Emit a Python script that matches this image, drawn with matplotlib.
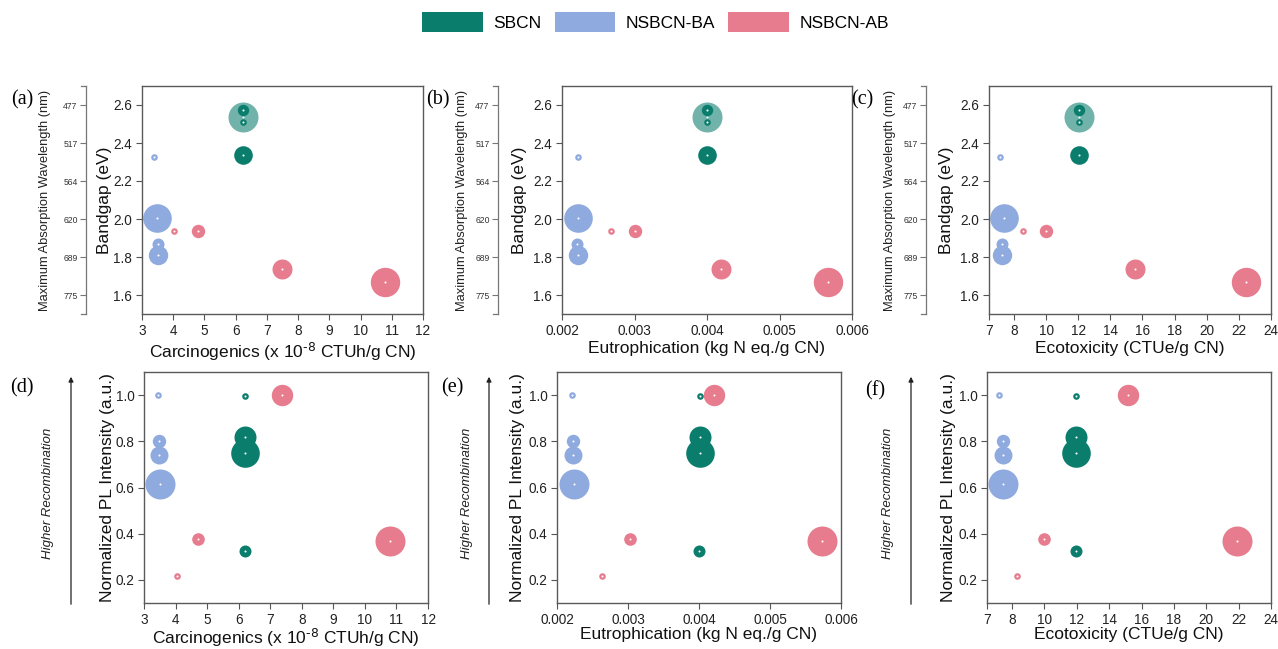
import matplotlib
matplotlib.use('Agg')
import matplotlib.pyplot as plt
from matplotlib.patches import Patch, FancyArrowPatch
from matplotlib.lines import Line2D

plt.rcParams['font.family'] = ['Liberation Sans', 'DejaVu Sans']
plt.rcParams['mathtext.default'] = 'regular'

W, H = 1278, 649

materials = ['SBCN', 'NSBCN-BA', 'NSBCN-AB']
colors = {'SBCN': '#0b7d6d', 'NSBCN-BA': '#8faade', 'NSBCN-AB': '#e67c8e'}

# ---- top row: bandgap vs LCA impacts ----
gap_sbcn = [2.539, 2.574, 2.513, 2.338]
gap_ba = [2.324, 2.006, 1.866, 1.810]
gap_ab = [1.939, 1.936, 1.736, 1.666]

gap_size_sbcn = [15.0, 5.7, 3.3, 9.3]
gap_size_ba = [3.3, 14.3, 6.0, 9.7]
gap_size_ab = [3.3, 6.7, 10.0, 14.7]
gap_alpha_sbcn = [0.58, 1, 1, 1]

carc_gap_sbcn = [6.23, 6.23, 6.23, 6.23]
carc_gap_ba = [3.39, 3.49, 3.50, 3.52]
carc_gap_ab = [4.01, 4.78, 7.49, 10.77]

eutro_gap_sbcn = [0.0040, 0.0040, 0.0040, 0.0040]
eutro_gap_ba = [0.00222, 0.00222, 0.00220, 0.00222]
eutro_gap_ab = [0.002678, 0.003012, 0.004188, 0.005671]

eco_gap_sbcn = [12.03, 12.03, 12.03, 12.03]
eco_gap_ba = [7.12, 7.41, 7.23, 7.23]
eco_gap_ab = [8.55, 10.0, 15.55, 22.44]

# ---- bottom row: normalized PL vs LCA impacts ----
pl_sbcn = [0.997, 0.818, 0.751, 0.327]
pl_ba = [1.0, 0.800, 0.740, 0.617]
pl_ab = [1.0, 0.376, 0.219, 0.368]

pl_size_sbcn = [3.3, 11.0, 14.3, 6.0]
pl_size_ba = [3.3, 6.7, 9.0, 15.0]
pl_size_ab = [10.7, 6.3, 3.3, 15.0]

carc_pl_sbcn = [6.20, 6.20, 6.20, 6.20]
carc_pl_ba = [3.44, 3.49, 3.49, 3.51]
carc_pl_ab = [7.37, 4.71, 4.05, 10.80]

eutro_pl_sbcn = [0.00401, 0.00401, 0.00401, 0.004005]
eutro_pl_ba = [0.002207, 0.00223, 0.00223, 0.00224]
eutro_pl_ab = [0.004207, 0.003023, 0.002634, 0.005737]

eco_pl_sbcn = [11.98, 11.98, 11.98, 11.98]
eco_pl_ba = [7.20, 7.41, 7.41, 7.45]
eco_pl_ab = [15.19, 10.0, 8.31, 21.90]

# wavelength axis (nm), placed at 1240/lambda eV
wavelengths = [477, 517, 564, 620, 689, 775]

carc_label = 'Carcinogenics (x 10$^{\\text{-8}}$ CTUh/g CN)'
eutro_label = 'Eutrophication (kg N eq./g CN)'
eco_label = 'Ecotoxicity (CTUe/g CN)'

carc_ticks = [3, 4, 5, 6, 7, 8, 9, 10, 11, 12]
eutro_ticks = [0.002, 0.003, 0.004, 0.005, 0.006]
eco_ticks = [6.45, 8, 10, 12, 14, 16, 18, 20, 22, 24]
eco_ticklabels = ['7', '8', '10', '12', '14', '16', '18', '20', '22', '24']

fig = plt.figure(figsize=(W / 100, H / 100), dpi=100)


def px_axes(l, t, r, b):
    return fig.add_axes([l / W, 1 - b / H, (r - l) / W, (b - t) / H])


def bubbles(ax, groups):
    pts = []
    for name, xs, ys, rs, alphas in groups:
        for x, y, r, a in zip(xs, ys, rs, alphas):
            pts.append((x, y, r, a, colors[name]))
    pts.sort(key=lambda p: -p[2])
    for i, (x, y, r, a, c) in enumerate(pts):
        ax.scatter(x, y, s=(2 * r * 0.72) ** 2, color=c, alpha=a, lw=0, zorder=2 + i * 0.01)
        ax.scatter(x, y, s=2.2, color='white', lw=0, zorder=2.005 + i * 0.01)


def style(ax, box, xlim, xticks, xticklabels, ylim, yticks, xlabel, ylabel, ylab_px, xlab_px):
    l, t, r, b = box
    ax.set_xlim(xlim)
    ax.set_ylim(ylim)
    ax.set_xticks(xticks)
    if xticklabels is not None:
        ax.set_xticklabels(xticklabels)
    else:
        ax.set_xticklabels([('%g' % v) for v in xticks])
    ax.set_yticks(yticks)
    ax.set_yticklabels(['%.1f' % v for v in yticks])
    ax.tick_params(direction='out', length=4, width=0.8, colors='#555555',
                   labelcolor='#222222', labelsize=9.8, pad=3)
    for s in ax.spines.values():
        s.set_color('#5a5a5a')
        s.set_linewidth(1.0)
    ax.set_xlabel(xlabel, fontsize=12.5, color='#111111')
    ax.set_ylabel(ylabel, fontsize=12.5, color='#111111')
    ax.yaxis.set_label_coords((ylab_px + 9 - l) / (r - l), 0.5)
    ax.xaxis.set_label_coords(0.5, -(xlab_px - 9 - b) / (b - t))


def wavelength_axis(ax_box, x_px, label_px):
    l, t, r, b = ax_box
    wax = fig.add_axes([x_px / W, 1 - b / H, 0.0005, (b - t) / H])
    wax.set_ylim(1.5, 2.7)
    wax.patch.set_visible(False)
    for s in ['top', 'right', 'bottom']:
        wax.spines[s].set_visible(False)
    wax.spines['left'].set_color('#777777')
    wax.spines['left'].set_linewidth(0.9)
    wax.set_xticks([])
    wax.set_yticks([1240.0 / w for w in wavelengths])
    wax.set_yticklabels([str(w) for w in wavelengths])
    wax.tick_params(axis='y', direction='out', length=4, width=0.8, colors='#777777',
                    labelcolor='#333333', labelsize=6.2, pad=2)
    for yy in (t, b):
        fig.add_artist(Line2D([(x_px - 5) / W, x_px / W], [1 - yy / H, 1 - yy / H],
                              color='#777777', lw=0.9))
    fig.text(label_px / W, 1 - (t + b) / 2 / H, 'Maximum Absorption Wavelength (nm)',
             rotation=90, ha='center', va='center', fontsize=9.3, color='#222222')


top_boxes = [(142, 86, 423, 314), (562, 86, 852, 314), (989, 86, 1271, 314)]
bot_boxes = [(144, 372, 428, 603), (557, 372, 841, 603), (987, 372, 1271, 603)]

gap_ticks = [1.6, 1.8, 2.0, 2.2, 2.4, 2.6]
pl_ticks = [0.2, 0.4, 0.6, 0.8, 1.0]

top_x = [
    (carc_gap_sbcn, carc_gap_ba, carc_gap_ab, (3, 12), carc_ticks, None, carc_label),
    (eutro_gap_sbcn, eutro_gap_ba, eutro_gap_ab, (0.002, 0.006), eutro_ticks, None, eutro_label),
    (eco_gap_sbcn, eco_gap_ba, eco_gap_ab, (6.45, 24), eco_ticks, eco_ticklabels, eco_label),
]
bot_x = [
    (carc_pl_sbcn, carc_pl_ba, carc_pl_ab, (3, 12), carc_ticks, None, carc_label),
    (eutro_pl_sbcn, eutro_pl_ba, eutro_pl_ab, (0.002, 0.006), eutro_ticks, None, eutro_label),
    (eco_pl_sbcn, eco_pl_ba, eco_pl_ab, (6.45, 24), eco_ticks, eco_ticklabels, eco_label),
]

top_ylab = [103, 518, 945]
top_wl_spine = [86, 498, 926]
top_wl_label = [45, 462, 890]
bot_ylab = [106, 516, 947]
arrow_x = [71, 489, 911]
arrow_text_x = [48, 467, 888]
top_letters = [('(a)', 22, 100), ('(b)', 438, 100), ('(c)', 862, 100)]
bot_letters = [('(d)', 22, 388), ('(e)', 452, 388), ('(f)', 875, 391)]

for i in range(3):
    box = top_boxes[i]
    xs_s, xs_b, xs_a, xlim, xt, xtl, xlabel = top_x[i]
    ax = px_axes(*box)
    bubbles(ax, [('SBCN', xs_s, gap_sbcn, gap_size_sbcn, gap_alpha_sbcn),
                 ('NSBCN-BA', xs_b, gap_ba, gap_size_ba, [1] * 4),
                 ('NSBCN-AB', xs_a, gap_ab, gap_size_ab, [1] * 4)])
    style(ax, box, xlim, xt, xtl, (1.5, 2.7), gap_ticks, xlabel, 'Bandgap (eV)',
          top_ylab[i], 350)
    wavelength_axis(box, top_wl_spine[i], top_wl_label[i])
    name, lx, ly = top_letters[i]
    fig.text(lx / W, 1 - ly / H, name, family='Liberation Serif', fontsize=14.5,
             ha='center', va='center')

    box = bot_boxes[i]
    xs_s, xs_b, xs_a, xlim, xt, xtl, xlabel = bot_x[i]
    ax = px_axes(*box)
    bubbles(ax, [('SBCN', xs_s, pl_sbcn, pl_size_sbcn, [1] * 4),
                 ('NSBCN-BA', xs_b, pl_ba, pl_size_ba, [1] * 4),
                 ('NSBCN-AB', xs_a, pl_ab, pl_size_ab, [1] * 4)])
    style(ax, box, xlim, xt, xtl, (0.1, 1.1), pl_ticks, xlabel,
          'Normalized PL Intensity (a.u.)', bot_ylab[i], 636)
    name, lx, ly = bot_letters[i]
    fig.text(lx / W, 1 - ly / H, name, family='Liberation Serif', fontsize=14.5,
             ha='center', va='center')

    ax_px = arrow_x[i]
    fig.add_artist(FancyArrowPatch(
        (ax_px / W, 1 - 607 / H), (ax_px / W, 1 - 374 / H),
        transform=fig.transFigure, arrowstyle='-|>', mutation_scale=7,
        color='#222222', lw=0.9))
    fig.text(arrow_text_x[i] / W, 1 - 493 / H, 'Higher Recombination', rotation=90,
             style='italic', fontsize=9.5, ha='center', va='center', color='#222222')

handles = [Patch(facecolor=colors[m], edgecolor='none', label=m) for m in materials]
fig.legend(handles=handles, loc='center', bbox_to_anchor=(0.513, 0.966), ncol=3,
           frameon=False, fontsize=12.5, handlelength=3.5, handleheight=1.38,
           handletextpad=0.6, columnspacing=0.75)

fig.savefig('out.png', dpi=100)
